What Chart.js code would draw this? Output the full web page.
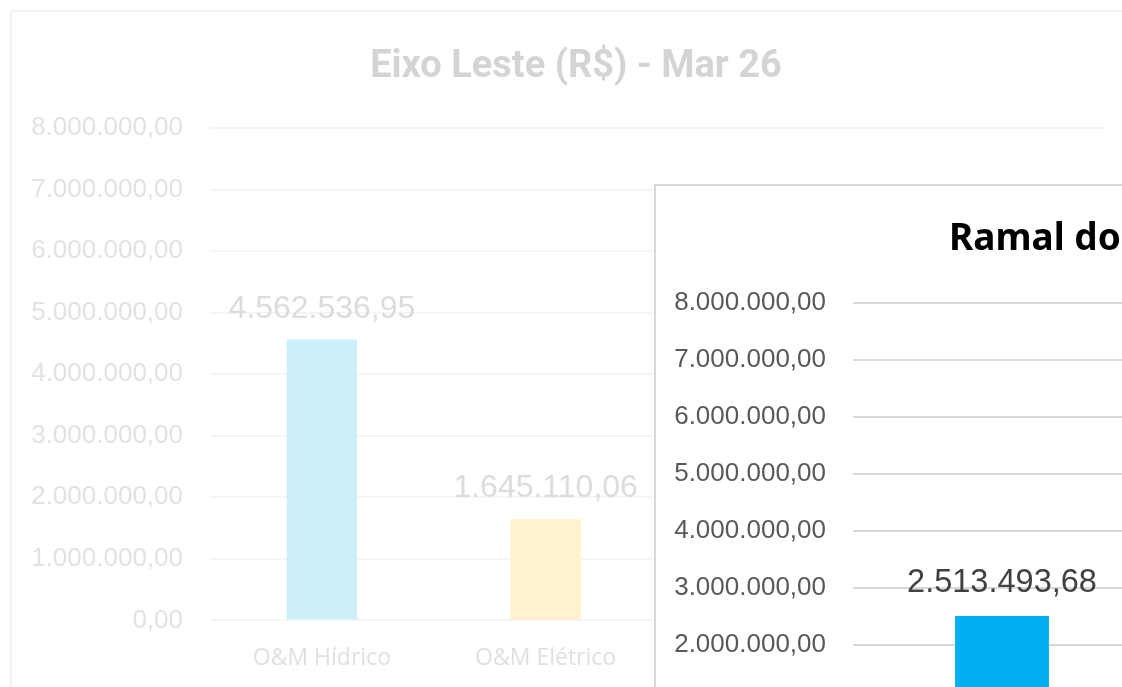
<!DOCTYPE html>
<html>
<head>
<meta charset="utf-8">
<script src="https://cdn.jsdelivr.net/npm/chart.js@4.4.1/dist/chart.umd.min.js"></script>
<style>
  html, body { margin: 0; padding: 0; background: #fff; width: 1122px; height: 687px; overflow: hidden; }
  #back { position: absolute; left: 10px; top: 10px; width: 1140px; height: 740px;
          border-left: 2px solid #f3f3f3; border-top: 2px solid #f3f3f3; box-sizing: border-box; }
  #front { position: absolute; left: 654px; top: 184px; width: 520px; height: 740px;
           border: 2px solid #d9d9d9; background: #fff; box-sizing: border-box; }
  .wrap { position: absolute; left: 0; top: 0; }
</style>
</head>
<body>
<div id="back"><div class="wrap" style="width:1110px;height:704px"><canvas id="eixo"></canvas></div></div>
<div id="front"><div class="wrap" style="width:516px;height:723px"><canvas id="ramal"></canvas></div></div>
<script>
// Eixo Leste (chart behind, faded)
const eixoTitle = 'Eixo Leste (R$) - Mar 26';
const eixoCategories = ['O&M Hídrico', 'O&M Elétrico', '', ''];
const eixoValues = [4562536.95, 1645110.06, null, null];
const eixoColors = ['#ccEFFC', '#FFF2CC', '#ffffff', '#ffffff'];

// Ramal do ... (chart in front, cut by the window)
const ramalTitle = 'Ramal do';
const ramalCategories = ['O&M Hídrico'];
const ramalValues = [2513493.68];
const ramalColors = ['#00B0F0'];

const yTicks = [0, 1000000, 2000000, 3000000, 4000000, 5000000, 6000000, 7000000, 8000000];

// 1234567.8 -> "1.234.567,80"
const fmtBR = (v) => {
  const parts = Number(v).toFixed(2).split('.');
  return parts[0].replace(/\B(?=(\d{3})+(?!\d))/g, '.') + ',' + parts[1];
};

const valueLabels = {
  id: 'valueLabels',
  afterDatasetsDraw(chart, args, opts) {
    const ctx = chart.ctx;
    const data = chart.data.datasets[0].data;
    ctx.save();
    ctx.font = opts.font;
    ctx.fillStyle = opts.color;
    ctx.textAlign = 'center';
    ctx.textBaseline = 'alphabetic';
    chart.getDatasetMeta(0).data.forEach((bar, i) => {
      if (data[i] == null) return;
      ctx.fillText(fmtBR(data[i]), bar.x, bar.y - opts.offset);
    });
    ctx.restore();
  }
};

// chart title placed at a fixed spot of the canvas
const placedTitle = {
  id: 'placedTitle',
  afterDraw(chart, args, opts) {
    if (!opts.text) return;
    const ctx = chart.ctx;
    ctx.save();
    ctx.font = opts.font;
    ctx.fillStyle = opts.color;
    ctx.textAlign = opts.align || 'left';
    ctx.textBaseline = 'alphabetic';
    ctx.fillText(opts.text, opts.x, opts.y);
    ctx.restore();
  }
};

const yScale = (color, gridColor, width) => ({
  min: 0,
  max: 8000000,
  afterBuildTicks: (s) => { s.ticks = yTicks.map(v => ({ value: v })); },
  afterFit: (s) => { s.width = width; },
  border: { display: false },
  grid: { color: gridColor, lineWidth: 2, drawTicks: false },
  ticks: {
    color: color,
    padding: 27,
    font: { family: 'Liberation Sans', size: 26 },
    callback: (v) => fmtBR(v)
  }
});

new Chart(document.getElementById('eixo'), {
  type: 'bar',
  data: {
    labels: eixoCategories,
    datasets: [{
      data: eixoValues,
      backgroundColor: eixoColors,
      categoryPercentage: 1,
      barPercentage: 0.315
    }]
  },
  options: {
    responsive: true,
    maintainAspectRatio: false,
    animation: false,
    layout: { padding: { left: 10, right: 17, top: 116, bottom: 20 } },
    plugins: {
      legend: { display: false },
      tooltip: { enabled: false },
      title: { display: false },
      placedTitle: { text: eixoTitle, font: 'bold 38px Roboto', color: '#d4d4d4', align: 'center', x: 564, y: 65 },
      valueLabels: { font: '32px "Liberation Sans"', color: '#dcdcdc', offset: 22 }
    },
    scales: {
      x: {
        grid: { display: false, drawTicks: false },
        border: { display: false },
        ticks: { color: '#e0e0e0', padding: 24, font: { family: 'Open Sans', size: 23 } }
      },
      y: yScale('#e2e2e2', '#f5f5f5', 188)
    }
  },
  plugins: [valueLabels, placedTitle]
});

new Chart(document.getElementById('ramal'), {
  type: 'bar',
  data: {
    labels: ramalCategories,
    datasets: [{
      data: ramalValues,
      backgroundColor: ramalColors,
      categoryPercentage: 1,
      barPercentage: 0.315
    }]
  },
  options: {
    responsive: true,
    maintainAspectRatio: false,
    animation: false,
    layout: { padding: { left: 0, right: 21, top: 117, bottom: 74 } },
    plugins: {
      legend: { display: false },
      tooltip: { enabled: false },
      title: { display: false },
      placedTitle: { text: ramalTitle, font: 'bold 37px "Noto Sans"', color: '#000000', x: 293, y: 64 },
      valueLabels: { font: '32.5px "Liberation Sans"', color: '#404040', offset: 24 }
    },
    scales: {
      x: {
        grid: { display: false, drawTicks: false },
        border: { display: false },
        ticks: { color: '#595959', padding: 24, font: { family: 'Open Sans', size: 23 } }
      },
      y: yScale('#595959', '#d9d9d9', 197)
    }
  },
  plugins: [valueLabels, placedTitle]
});
</script>
</body>
</html>
